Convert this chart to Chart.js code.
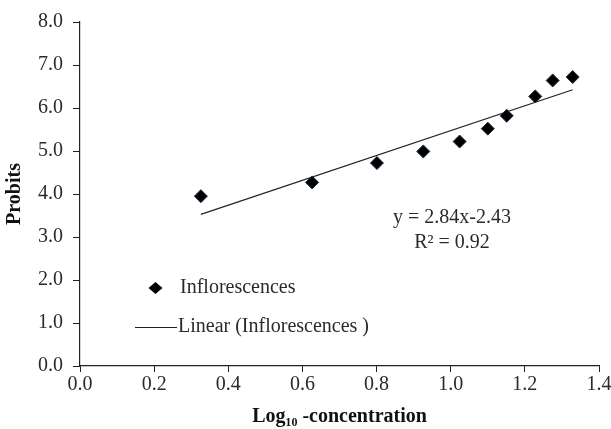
<!DOCTYPE html>
<html>
<head>
<meta charset="utf-8">
<script src="https://cdn.jsdelivr.net/npm/chart.js@4.4.0/dist/chart.umd.min.js"></script>
<style>
  html, body { margin: 0; padding: 0; background: #fff; overflow: hidden; }
</style>
</head>
<body>
<canvas id="chart" width="611" height="429"></canvas>
<script>
// values
var logConc = [0.326, 0.626, 0.801, 0.926, 1.024, 1.100, 1.151, 1.228, 1.275, 1.329];
var probits = [3.95, 4.27, 4.72, 4.99, 5.22, 5.52, 5.82, 6.27, 6.64, 6.72];
var seriesName = 'Inflorescences';
var trendName = 'Linear (Inflorescences )';
var equationText = ['y = 2.84x-2.43', 'R\u00b2 = 0.92'];

// least squares line through the points
function fitLine(xs, ys) {
    var n = xs.length, mx = 0, my = 0;
    for (var i = 0; i < n; i++) { mx += xs[i]; my += ys[i]; }
    mx /= n; my /= n;
    var sxy = 0, sxx = 0;
    for (var j = 0; j < n; j++) {
        sxy += (xs[j] - mx) * (ys[j] - my);
        sxx += (xs[j] - mx) * (xs[j] - mx);
    }
    var b = sxy / sxx;
    return { slope: b, icpt: my - b * mx };
}
var fit = fitLine(logConc, probits);
var xMin = Math.min.apply(null, logConc), xMax = Math.max.apply(null, logConc);
var trendPts = [
    { x: xMin, y: fit.icpt + fit.slope * xMin },
    { x: xMax, y: fit.icpt + fit.slope * xMax }
];

Chart.defaults.font.family = "'Liberation Serif', 'Times New Roman', serif";
Chart.defaults.color = '#2a2a2a';

var legendAndNote = {
    id: 'legendAndNote',
    afterDraw: function (chart) {
        var ctx = chart.ctx;
        ctx.save();
        ctx.textBaseline = 'middle';
        // legend: marker
        ctx.fillStyle = '#000';
        ctx.beginPath();
        ctx.moveTo(155.5, 282); ctx.lineTo(162.5, 288); ctx.lineTo(155.5, 294); ctx.lineTo(148.5, 288);
        ctx.closePath(); ctx.fill();
        ctx.font = "20px 'Liberation Serif', serif";
        ctx.fillStyle = '#2a2a2a';
        ctx.textAlign = 'left';
        ctx.fillText(seriesName, 180, 288);
        // legend: line
        ctx.strokeStyle = '#222'; ctx.lineWidth = 1.2;
        ctx.beginPath(); ctx.moveTo(135, 327.5); ctx.lineTo(177, 327.5); ctx.stroke();
        ctx.fillText(trendName, 178, 327);
        // equation
        ctx.textAlign = 'center';
        ctx.fillText(equationText[0], 452, 218);
        ctx.fillText(equationText[1], 452, 243);
        ctx.restore();
    }
};

new Chart(document.getElementById('chart'), {
    type: 'scatter',
    data: {
        datasets: [{
            label: seriesName,
            data: logConc.map(function (v, i) { return { x: v, y: probits[i] }; }),
            pointStyle: 'rectRot',
            pointRadius: 6.5,
            pointHoverRadius: 6.5,
            backgroundColor: '#000',
            borderColor: '#1b2a44',
            borderWidth: 1,
        }, {
            type: 'line',
            label: trendName,
            data: trendPts,
            borderColor: '#222',
            borderWidth: 1.2,
            pointRadius: 0,
            fill: false,
        }]
    },
    options: {
        responsive: false,
        animation: false,
        layout: { padding: { left: 3, right: 12, top: 16, bottom: 0 } },
        plugins: {
            legend: { display: false },
            tooltip: { enabled: false },
        },
        scales: {
            x: {
                type: 'linear',
                min: 0, max: 1.4,
                afterFit: function (s) { s.height = 63; s.paddingLeft = 0; s.paddingRight = 0; },
                ticks: {
                    stepSize: 0.2,
                    padding: 3,
                    maxRotation: 0,
                    font: { size: 20, lineHeight: 1 },
                    callback: function (v) { return v.toFixed(1); }
                },
                grid: { drawOnChartArea: false, tickLength: 6, color: '#222' },
                border: { color: '#222', width: 1.2 },
                title: {
                    display: true,
                    text: 'Log\u2081\u2080 -concentration',
                    font: { size: 20, weight: 'bold', lineHeight: 1 },
                    color: '#111',
                    padding: { top: 0, bottom: 2 }
                }
            },
            y: {
                min: 0, max: 8,
                afterFit: function (s) { s.width = 77; },
                ticks: {
                    stepSize: 1,
                    padding: 10,
                    font: { size: 20 },
                    callback: function (v) { return v.toFixed(1); }
                },
                grid: { drawOnChartArea: false, tickLength: 7, color: '#222' },
                border: { color: '#222', width: 1.2 },
                title: {
                    display: true,
                    text: 'Probits',
                    font: { size: 20, weight: 'bold' },
                    color: '#111',
                    padding: { top: 0, bottom: 0 }
                }
            }
        }
    },
    plugins: [legendAndNote]
});
</script>
</body>
</html>
